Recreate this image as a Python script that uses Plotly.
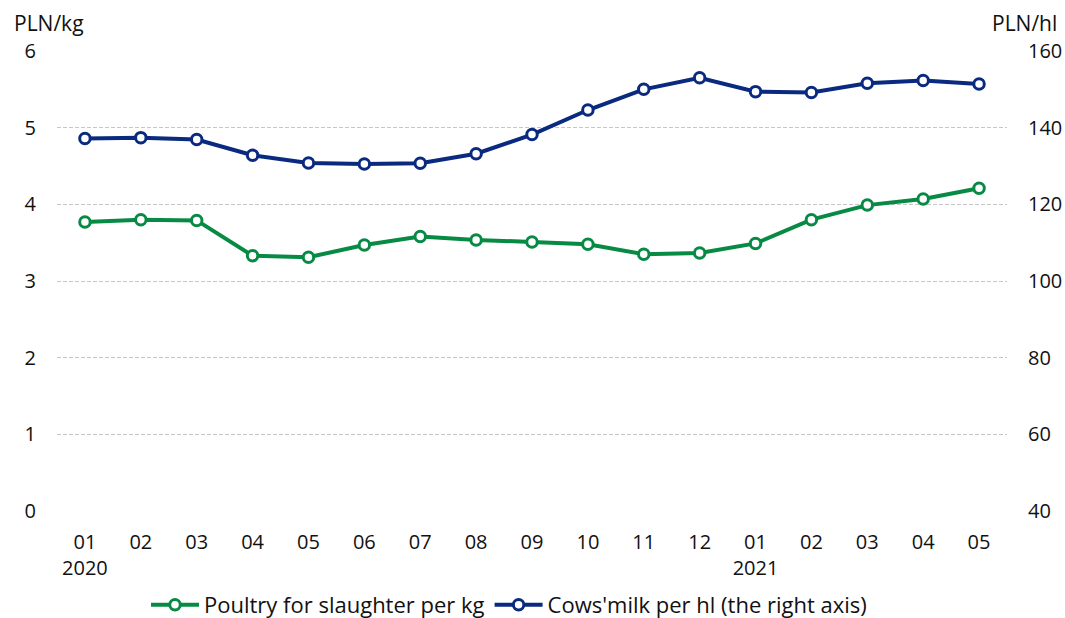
import plotly.graph_objects as go

periods = ["2020-01", "2020-02", "2020-03", "2020-04", "2020-05", "2020-06", "2020-07",
           "2020-08", "2020-09", "2020-10", "2020-11", "2020-12", "2021-01", "2021-02",
           "2021-03", "2021-04", "2021-05"]
tick_labels = ["01<br>2020", "02", "03", "04", "05", "06", "07", "08", "09", "10", "11",
               "12", "01<br>2021", "02", "03", "04", "05"]
poultry = [3.77, 3.80, 3.79, 3.33, 3.31, 3.47, 3.58, 3.535, 3.51, 3.48, 3.35, 3.365,
           3.49, 3.80, 3.99, 4.07, 4.21]
milk = [137.2, 137.4, 136.9, 132.8, 130.8, 130.5, 130.7, 133.2, 138.2, 144.6, 150.0,
        153.0, 149.4, 149.2, 151.6, 152.3, 151.4]

GREEN = "#078A43"
NAVY = "#0A2A80"
FONT = "Open Sans"
TXT = "#111111"

fig = go.Figure()
fig.add_trace(go.Scatter(
    x=periods, y=poultry, name="Poultry for slaughter per kg", mode="lines+markers",
    line=dict(color=GREEN, width=4),
    marker=dict(symbol="circle", size=10.5, color="white", line=dict(color=GREEN, width=3)),
))
fig.add_trace(go.Scatter(
    x=periods, y=milk, name="Cows'milk per hl (the right axis)", mode="lines+markers",
    yaxis="y2",
    line=dict(color=NAVY, width=4),
    marker=dict(symbol="circle", size=10.5, color="white", line=dict(color=NAVY, width=3)),
))

PW = 950.0
PH = 460.0
fig.update_layout(
    width=1065, height=618,
    margin=dict(l=57, r=58, t=51, b=107, autoexpand=False),
    paper_bgcolor="white", plot_bgcolor="white",
    font=dict(family=FONT, size=20, color=TXT),
    showlegend=True,
    legend=dict(orientation="h", x=(146 - 57) / PW, xanchor="left", y=-(605 - 511) / PH,
                yanchor="middle", font=dict(size=22, color=TXT), tracegroupgap=0,
                traceorder="normal", itemwidth=48),
    xaxis=dict(
        type="category", tickmode="array", tickvals=periods, ticktext=tick_labels,
        showgrid=False, zeroline=False, showline=False, ticks="", ticklabelstandoff=17,
        tickfont=dict(size=20), range=[-0.5, 16.5], automargin=False,
    ),
    yaxis=dict(
        range=[0, 6], dtick=1, showgrid=True, gridcolor="#c6c6c6", griddash="4px,2px",
        gridwidth=1, zeroline=False, showline=False, ticks="", ticklabelstandoff=20,
        tickfont=dict(size=20), automargin=False,
    ),
    yaxis2=dict(
        range=[40, 160], dtick=20, overlaying="y", side="right", showgrid=False,
        zeroline=False, showline=False, ticks="", ticklabelstandoff=20,
        tickfont=dict(size=20), automargin=False,
    ),
    annotations=[
        dict(text="PLN/kg", xref="paper", yref="paper", x=-45 / PW, y=1.0, yshift=28,
             xanchor="left", yanchor="middle", showarrow=False, font=dict(size=21)),
        dict(text="PLN/hl", xref="paper", yref="paper", x=1 + 52 / PW, y=1.0, yshift=28,
             xanchor="right", yanchor="middle", showarrow=False, font=dict(size=21)),
    ],
)

fig.write_html("out.html", config={"displayModeBar": False},
               post_script="document.body.style.margin='0';document.body.style.overflow='hidden';")
